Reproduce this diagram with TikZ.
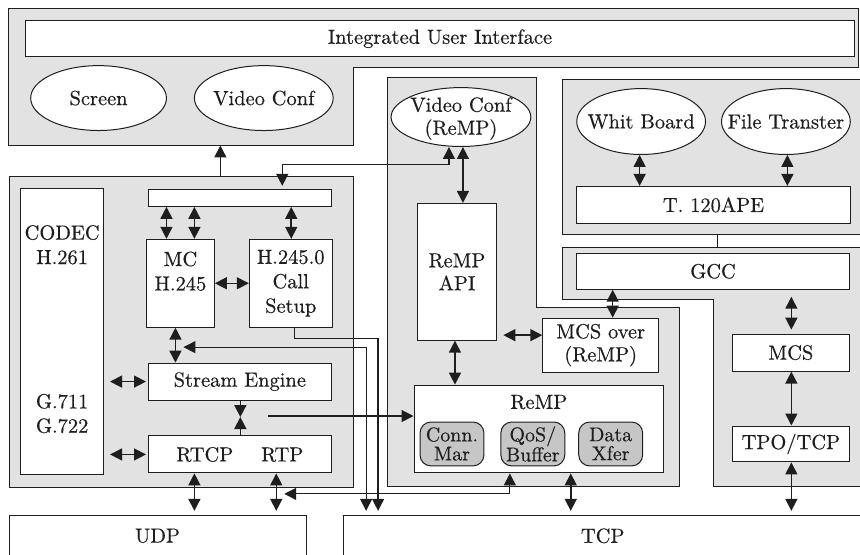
\documentclass[tikz,border=0pt]{standalone}
\usepackage{fontspec}
\setmainfont{lmroman10-regular.otf}[FakeBold=0.4]
\usetikzlibrary{arrows.meta,shapes.geometric}
\definecolor{panelgray}{RGB}{226,226,226}
\definecolor{innergray}{RGB}{198,198,198}
\definecolor{ink}{RGB}{30,30,30}
\begin{document}
\begin{tikzpicture}[x=1pt,y=-1pt,
  every node/.style={font=\fontsize{20.5}{24.5}\selectfont, text=ink},
  txt/.style={inner sep=0pt, align=center},
  panel/.style={draw=ink, fill=panelgray, line width=1pt},
  box/.style={draw=ink, fill=white, line width=1pt, inner sep=0pt, align=center, rectangle},
  oval/.style={draw=ink, fill=white, line width=1pt, ellipse, inner sep=0pt},
  inbox/.style={draw=ink, fill=innergray, line width=1pt, rounded corners=11pt, inner sep=0pt, align=center, minimum width=64pt, minimum height=44pt, font=\fontsize{20}{19}\selectfont},
  >={Triangle[length=12pt,width=12pt]},
  every path/.style={line width=1.5pt, draw=ink}
]
\useasboundingbox (0,0) rectangle (860,554);
\fill[white] (0,0) rectangle (860,554);

% ---------- panels ----------
\path[panel] (8,8) -- (859,8) -- (859,67) -- (353,67) -- (353,145) -- (8,145) -- cycle;
\coordinate (uiB) at (220,145);
\node[panel, minimum width=345pt, minimum height=311pt, anchor=north west] (p2) at (8,176) {};
\path[panel] (387,77) -- (537,77) -- (537,307) -- (680,307) -- (680,487) -- (387,487) -- cycle;
\node[panel, minimum width=320pt, minimum height=156pt, anchor=north west] (p120) at (562,78) {};
\path[panel] (563,247) -- (880,247) -- (880,487) -- (714,487) -- (714,299) -- (563,299) -- cycle;
\coordinate (gccTop) at (718,247);

% ---------- top panel ----------
\node[box, minimum width=830pt, minimum height=36pt] (ui) at (440,38) {Integrated User Interface};
\node[oval, minimum width=136pt, minimum height=65pt] (screen) at (98,97.5) {};
\node[txt] (screenT) at (screen) {Screen};
\node[oval, minimum width=139pt, minimum height=65pt] (vc) at (263.5,97.5) {};
\node[txt] (vcT) at (vc) {Video Conf};

% ---------- left panel ----------
\node[box, minimum width=83pt, minimum height=287pt] (codec) at (61.5,331.5) {};
\node[txt] (codecT) at (61.5,244.5) {CODEC\\H.261};
\node[txt] (codecB) at (61.5,413.5) {G.711\\G.722};
\node[box, minimum width=183pt, minimum height=17pt] (bar) at (239.5,197.5) {};
\node[box, minimum width=68pt, minimum height=88pt] (mc) at (180,283) {MC\\H.245\\\mbox{}};
\node[box, minimum width=83pt, minimum height=88pt] (cs) at (290.5,283) {H.245.0\\Call\\Setup};
\node[box, minimum width=183pt, minimum height=37pt] (se) at (239.5,381.5) {Stream Engine};
\node[box, minimum width=183pt, minimum height=37pt] (rt) at (239.5,454.5) {RTCP\hspace{28pt}RTP};

% ---------- bottom ----------
\node[box, minimum width=298pt, minimum height=80pt, anchor=north west] (udp) at (8,515) {};
\node[txt] (udpT) at (157,536) {UDP};
\node[box, minimum width=540pt, minimum height=80pt, anchor=north west] (tcp) at (343,515) {};
\node[txt] (tcpT) at (603,536) {TCP};

% ---------- ReMP panel ----------
\node[oval, minimum width=140pt, minimum height=59pt] (vcr) at (461,116.5) {};
\node[txt, font=\fontsize{20.5}{23}\selectfont] (vcrT) at (461,118) {Video Conf\\(ReMP)};
\node[box, minimum width=80pt, minimum height=137pt, font=\fontsize{20.5}{23}\selectfont] (api) at (457,271.5) {ReMP\\API};
\node[box, minimum width=116pt, minimum height=54pt, font=\fontsize{20.5}{23}\selectfont] (mcso) at (601,345) {MCS over\\(ReMP)};
\node[box, minimum width=250pt, minimum height=88pt] (remp) at (539,429) {};
\node[txt] (rempT) at (539,402) {ReMP};
\node[inbox] (conn) at (452,444) {Conn.\\Mar};
\node[inbox] (qos) at (533,444) {QoS/\\Buffer};
\node[inbox] (xfer) at (611,444) {Data\\Xfer};

% ---------- T.120 side ----------
\node[oval, minimum width=129pt, minimum height=66pt] (wb) at (641.5,121) {};
\node[txt] (wbT) at (wb) {Whit Board};
\node[oval, minimum width=129pt, minimum height=66pt] (ft) at (786.5,121) {};
\node[txt] (ftT) at (ft) {File Transter};
\node[box, minimum width=274pt, minimum height=37pt] (ape) at (714,204.5) {T. 120APE};
\node[box, minimum width=273pt, minimum height=36pt] (gcc) at (713.5,271) {GCC};
\node[box, minimum width=117pt, minimum height=37pt] (mcs) at (791.5,352.5) {MCS};
\node[box, minimum width=117pt, minimum height=36pt] (tpo) at (791.5,444) {TPO/TCP};

% ---------- coordinates for connectors ----------
\coordinate (xa) at (166,0);
\coordinate (xb) at (194,0);
\coordinate (xc) at (291,0);
\coordinate (xd) at (175,0);
\coordinate (xr) at (276,0);
\coordinate (jl) at (183,347);
\coordinate (jr) at (366,347);
\coordinate (cs1) at (294,338);
\coordinate (cs2) at (378,338);
\coordinate (mid) at (240,417);
\coordinate (sfrom) at (268,416);
\coordinate (ql) at (284,494);
\coordinate (qr) at (510,494);
\coordinate (v1) at (282,164);
\coordinate (v2) at (449,164);
\coordinate (x463) at (463,0);
\coordinate (y335) at (0,335);
\coordinate (x455) at (455,0);
\coordinate (x613) at (613,0);
\coordinate (x792) at (792,0);
\coordinate (x571) at (571,0);
\coordinate (x640) at (640,0);
\coordinate (x788) at (788,0);

% ---------- connectors ----------
\draw[->] (p2.north -| uiB) -- (uiB);
\draw[<->] (bar.south -| xa) -- (mc.north -| xa);
\draw[<->] (bar.south -| xb) -- (mc.north -| xb);
\draw[<->] (bar.south -| xc) -- (cs.north -| xc);
\draw[<->] (mc.east) -- (cs.west);
\draw[<->] (mc.south -| xd) -- (se.north -| xd);
\draw[<->, line width=1.2pt, shorten >=4pt] (jl) -- (jr) -- (tcp.north -| jr);
\draw[->, line width=1.2pt, shorten >=4pt] (cs.south -| cs1) -- (cs1) -- (cs2) -- (tcp.north -| cs2);
\draw[<->, shorten <=6pt, shorten >=2pt] (codec.east |- se) -- (se.west);
\draw[<->, shorten <=6pt, shorten >=2pt] (codec.east |- rt) -- (rt.west);
\draw[->] (se.south -| mid) -- (mid);
\draw[->] (rt.north -| mid) -- (mid);
\draw[->, line width=1.2pt] (sfrom) -- (sfrom -| remp.west);
\draw[<->, shorten >=4pt] (rt.south -| xb) -- (udp.north -| xb);
\draw[<->, shorten >=4pt] (rt.south -| xr) -- (udp.north -| xr);
\draw[<->, line width=1.2pt] (ql) -- (qr) -- (remp.south -| qr);
\draw[<->, line width=1.2pt, shorten <=3pt] (bar.north -| v1) -- (v1) -- (v2) -- (vcr.south -| v2);
\draw[<->] (vcr.south -| x463) -- (api.north -| x463);
\draw[<->, shorten <=6pt] (api.east |- y335) -- (mcso.west |- y335);
\draw[<->] (api.south -| x455) -- (remp.north -| x455);
\draw[<->] (gcc.south -| x613) -- (mcso.north -| x613);
\draw[<->, shorten <=7pt, shorten >=4pt] (gcc.south -| x792) -- (mcs.north -| x792);
\draw[<->] (mcs.south -| x792) -- (tpo.north -| x792);
\draw[<->, shorten >=4pt] (tpo.south -| x792) -- (tcp.north -| x792);
\draw[<->, shorten >=4pt] (remp.south -| x571) -- (tcp.north -| x571);
\draw[<->] (wb.south -| x640) -- (ape.north -| x640);
\draw[<->] (ft.south -| x788) -- (ape.north -| x788);
\draw[line width=1pt] (p120.south -| gccTop) -- (gccTop);
\end{tikzpicture}
\end{document}
